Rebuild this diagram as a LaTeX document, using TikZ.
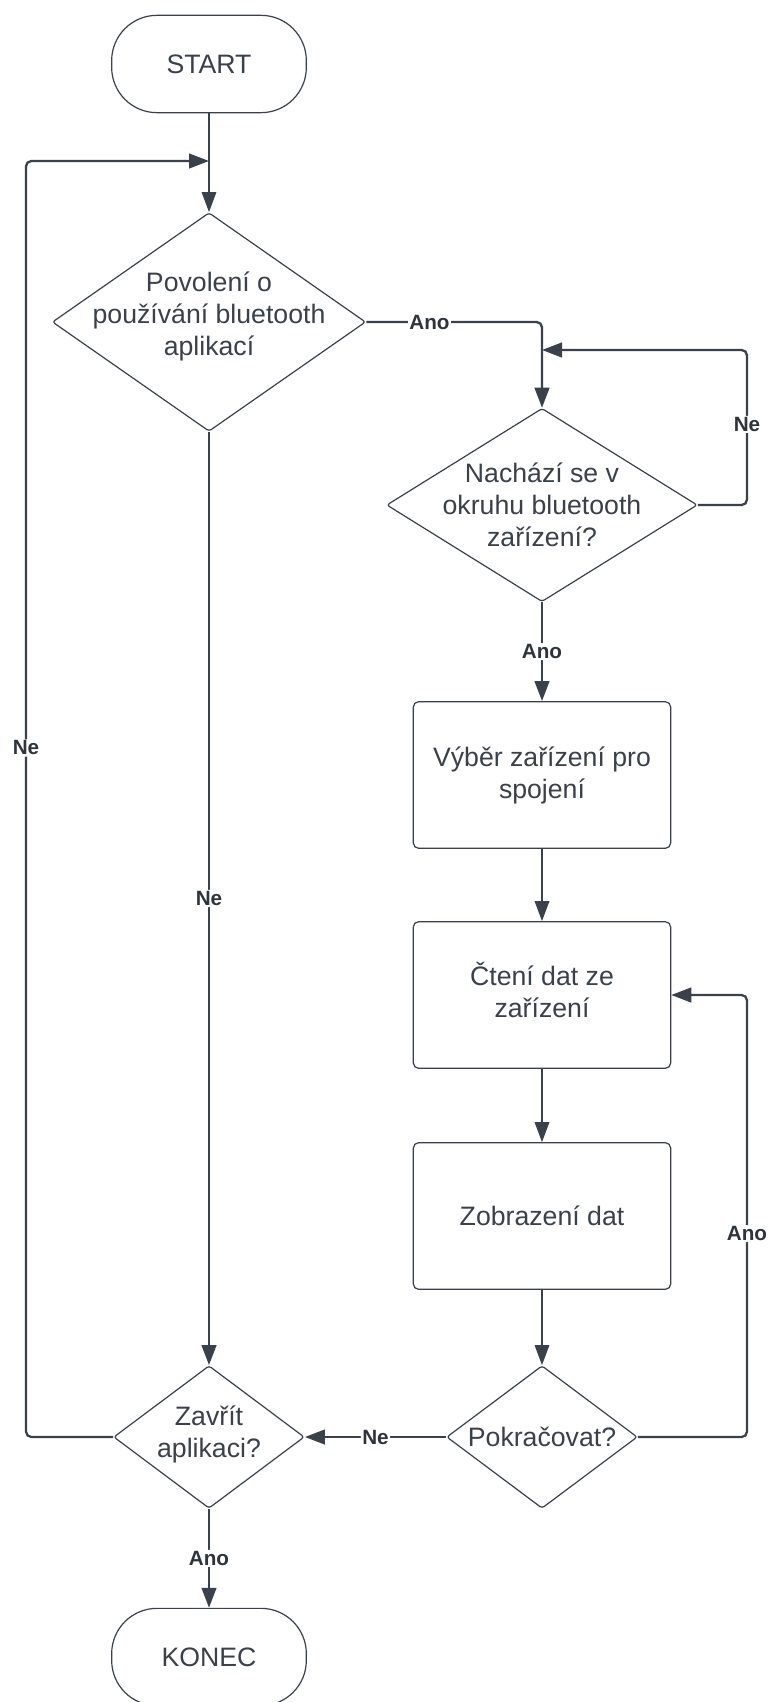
\documentclass[tikz,border=0pt]{standalone}
\usepackage{fontspec}
\setmainfont{Liberation Sans}
\usetikzlibrary{arrows.meta,shapes.geometric}
\definecolor{ink}{HTML}{3A414A}
\begin{document}
\begin{tikzpicture}[x=0.75pt,y=-0.75pt,
  every node/.style={font=\fontsize{20}{24}\selectfont,text=ink,align=center},
  term/.style={draw=ink,line width=0.9pt,rounded corners=34pt,minimum width=146pt,minimum height=73pt},
  proc/.style={draw=ink,line width=0.9pt,rounded corners=4pt,minimum width=193pt,minimum height=110pt},
  dec/.style={diamond,draw=ink,line width=0.9pt,rounded corners=2pt,inner sep=0pt},
  thinarr/.style={draw=ink,line width=0.9pt,-{Triangle[length=15pt,width=11pt]}},
  thickarr/.style={draw=ink,line width=1.7pt,rounded corners=4pt,-{Triangle[length=15pt,width=11pt]}},
  lbl/.style={fill=white,font=\fontsize{15.5}{18}\selectfont\bfseries,text=ink!80!black,inner sep=1pt}]
\fill[white] (0,0) rectangle (771,1702);
\useasboundingbox (0,0) rectangle (771,1702);
% shapes
\node[term] (start) at (209,64) {START};
\node[dec,minimum width=235pt,minimum height=164pt,
  label={[yshift=4pt]center:Povolení o\\používání bluetooth\\aplikací}] (perm) at (209,322) {};
\node[dec,minimum width=233pt,minimum height=145pt,
  label={center:Nachází se v\\okruhu bluetooth\\zařízení?}] (inrange) at (542,505) {};
\node[proc] (choose) at (542,775) {Výběr zařízení pro\\spojení};
\node[proc,label={[yshift=4pt]center:Čtení dat ze\\zařízení}] (read) at (542,995) {};
\node[proc] (show) at (542,1216) {Zobrazení dat};
\node[dec,minimum width=143pt,minimum height=107pt,
  label={center:Pokračovat?}] (cont) at (542,1437) {};
\node[dec,minimum width=143pt,minimum height=107pt,
  label={[yshift=2pt]center:Zavřít\\aplikaci?}] (close) at (209,1437) {};
\node[term] (stop) at (209,1657) {KONEC};
% junctions and corners
\coordinate (j1) at (209,161);
\coordinate (lc) at (26,161);
\coordinate (j2) at (542,350);
\coordinate (rc) at (747,350);
\coordinate (rc2) at (747,995);
% connectors
\draw[thinarr] (start) -- (perm);
\draw[thickarr] (perm.east) -| (inrange.north) node[lbl,pos=0.18]{Ano};
\draw[thickarr] (inrange.east) -| (rc) node[lbl,pos=0.76]{Ne} -- (j2);
\draw[thickarr] (inrange) -- (choose) node[lbl,midway]{Ano};
\draw[thinarr] (choose) -- (read);
\draw[thinarr] (read) -- (show);
\draw[thinarr] (show) -- (cont);
\draw[thickarr] (cont.east) -| (rc2) node[lbl,pos=0.73]{Ano} -- (read.east);
\draw[thickarr] (cont) -- (close) node[lbl,midway]{Ne};
\draw[thickarr] (perm) -- (close) node[lbl,midway]{Ne};
\draw[thickarr] (close.west) -| (lc) node[lbl,pos=0.77]{Ne} -- (j1);
\draw[thickarr] (close) -- (stop) node[lbl,midway]{Ano};
\end{tikzpicture}
\end{document}
